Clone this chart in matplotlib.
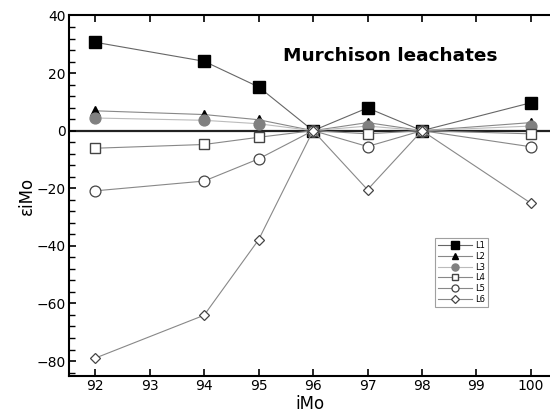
import matplotlib
matplotlib.use("Agg")
import matplotlib.pyplot as plt
from matplotlib.ticker import MultipleLocator

x = [92, 94, 95, 96, 97, 98, 100]
L1 = [30.7, 24.1, 15.2, 0.0, 7.9, 0.0, 9.7]
L2 = [6.9, 5.6, 3.8, 0.0, 2.8, 0.0, 2.8]
L3 = [4.4, 3.6, 2.4, 0.0, 1.6, 0.0, 1.6]
L4 = [-6.1, -4.8, -2.3, 0.0, -1.1, 0.0, -1.1]
L5 = [-20.9, -17.5, -9.8, 0.0, -5.5, 0.0, -5.6]
L6 = [-79.0, -64.1, -37.9, 0.0, -20.5, 0.0, -25.2]
labels = ["L1", "L2", "L3", "L4", "L5", "L6"]

fig = plt.figure(figsize=(5.5, 4.12), dpi=100)
ax = fig.add_axes([0.1255, 0.0874, 0.8745, 0.875])

ax.axhline(0, color="#222222", lw=1.6, zorder=1)

styles = [
    dict(marker="s", color="#666666", mfc="black", mec="black", ms=8.2),
    dict(marker="^", color="#888888", mfc="black", mec="black", ms=7.2),
    dict(marker="o", color="#bbbbbb", mfc="#808080", mec="#808080", ms=7.8),
    dict(marker="s", color="#888888", mfc="white", mec="#444444", ms=7.4, mew=1.0),
    dict(marker="o", color="#888888", mfc="white", mec="#444444", ms=7.8, mew=0.9),
    dict(marker="D", color="#888888", mfc="white", mec="#444444", ms=5.6, mew=0.9),
]
for lab, ys, st in zip(labels, [L1, L2, L3, L4, L5, L6], styles):
    ax.plot(x, ys, lw=0.8, label=lab, zorder=3, **st)

ax.set_xlim(91.52, 100.35)
ax.set_ylim(-85.2, 40)
ax.xaxis.set_major_locator(MultipleLocator(1))
ax.yaxis.set_major_locator(MultipleLocator(20))
ax.yaxis.set_minor_locator(MultipleLocator(4))
ax.tick_params(axis="both", which="major", direction="in", length=5, width=1.2,
               labelsize=10, top=True, right=False, pad=2.5)
ax.tick_params(axis="y", which="minor", direction="in", length=4, width=1.0, right=False)
for s in ["left", "bottom", "top"]:
    ax.spines[s].set_linewidth(1.5)
ax.spines["right"].set_visible(False)

ax.set_xlabel("iMo", fontsize=12, labelpad=1)
ax.set_ylabel("εiMo", fontsize=12, labelpad=0)
ax.text(0.445, 0.888, "Murchison leachates", transform=ax.transAxes,
        fontsize=13.3, fontweight="bold", ha="left", va="center")

leg = ax.legend(loc="upper left", bbox_to_anchor=(0.761, 0.383), fontsize=6,
                markerscale=0.65, frameon=True, fancybox=False, edgecolor="#888888",
                handlelength=4, borderpad=0.4, labelspacing=0.2, handletextpad=0.4,
                borderaxespad=0)
leg.get_frame().set_linewidth(0.8)

fig.savefig("out.png", dpi=100)
